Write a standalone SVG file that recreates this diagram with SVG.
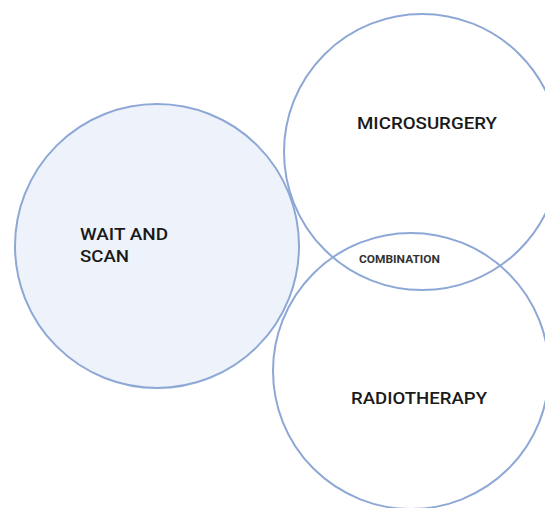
<svg xmlns="http://www.w3.org/2000/svg" width="545" height="508" viewBox="0 0 545 508">
<style>
.c{stroke:#8EA8D6;stroke-width:2;fill:none}
.t{font-family:Roboto,"Liberation Sans",sans-serif;fill:#1a1a1a}
.l{font-size:17px;font-weight:500}
.s{font-size:11px;font-weight:bold;fill:#333}
</style>
<rect width="545" height="508" fill="#ffffff"/>
<g id="wait-and-scan">
<circle class="c" cx="157" cy="246" r="142" style="fill:#EEF3FB"/>
<text class="t l" x="80" y="240" textLength="88" lengthAdjust="spacingAndGlyphs">WAIT AND</text>
<text class="t l" x="80" y="262" textLength="49" lengthAdjust="spacingAndGlyphs">SCAN</text>
</g>
<g id="microsurgery">
<circle class="c" cx="422" cy="152" r="138"/>
<text class="t l" x="357" y="129" textLength="140" lengthAdjust="spacingAndGlyphs">MICROSURGERY</text>
</g>
<g id="radiotherapy">
<circle class="c" cx="411" cy="371" r="138"/>
<text class="t l" x="351" y="404" textLength="136" lengthAdjust="spacingAndGlyphs">RADIOTHERAPY</text>
</g>
<g id="combination">
<text class="t s" x="359" y="263" textLength="81" lengthAdjust="spacingAndGlyphs">COMBINATION</text>
</g>
<g id="connectors"></g>
</svg>
